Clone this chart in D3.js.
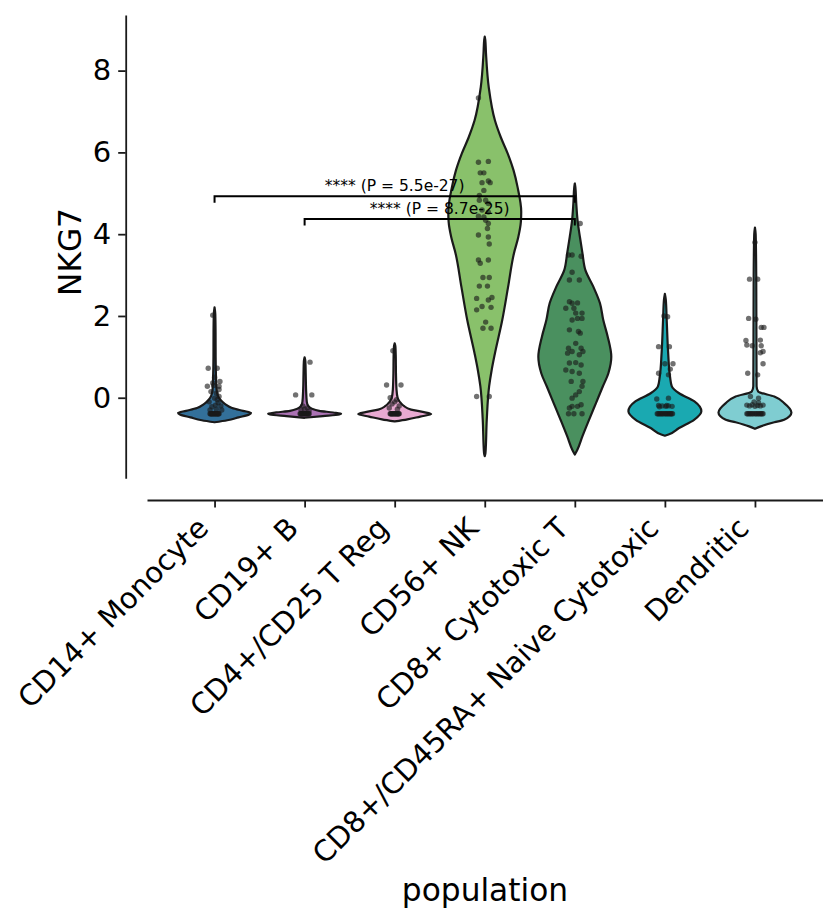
<!DOCTYPE html>
<html>
<head>
<meta charset="utf-8">
<script src="https://cdn.jsdelivr.net/npm/d3@7"></script>
<style>
  body { margin: 0; background: #fff; }
  text { font-family: "DejaVu Sans", sans-serif; fill: #000; }
</style>
</head>
<body>
<script>
var W = 838, H = 924;

// categories and colours
var categories = ["CD14+ Monocyte", "CD19+ B", "CD4+/CD25 T Reg", "CD56+ NK",
                  "CD8+ Cytotoxic T", "CD8+/CD45RA+ Naive Cytotoxic", "Dendritic"];
var palette = ["#33709a", "#ab72b4", "#e8a9d1", "#89c16b", "#4a905f", "#1aa9b1", "#7fcdd1"];
var yTicks = [0, 2, 4, 6, 8];

// violin outlines: [value, relative half width]
var monocyteProfile = [[-0.60,0],[-0.55,0.35],[-0.48,0.66],[-0.41,0.95],[-0.37,1],[-0.32,0.78],[-0.25,0.48],
  [-0.15,0.28],[-0.05,0.16],[0.05,0.09],[0.2,0.055],[0.5,0.04],[1.0,0.03],[1.6,0.028],[2.05,0.02],[2.21,0]];
var bCellProfile = [[-0.49,0],[-0.45,0.5],[-0.41,0.95],[-0.39,1],[-0.36,0.78],[-0.32,0.4],[-0.27,0.2],
  [-0.2,0.1],[-0.1,0.06],[0.2,0.04],[0.6,0.03],[0.9,0.02],[0.99,0]];
var tRegProfile = [[-0.58,0],[-0.53,0.35],[-0.46,0.7],[-0.40,1],[-0.35,0.8],[-0.29,0.45],[-0.2,0.25],
  [-0.1,0.14],[0.0,0.08],[0.2,0.05],[0.6,0.035],[1.0,0.03],[1.25,0.02],[1.33,0]];
var nkProfile = [[-1.43,0],[-1.35,0.02],[-0.54,0.055],[0.28,0.12],[0.68,0.19],[1.09,0.28],[1.9,0.48],
  [2.71,0.64],[3.53,0.8],[3.93,0.92],[4.3,0.99],[4.55,1],[5.15,0.9],[5.56,0.79],[5.97,0.63],
  [6.37,0.44],[6.78,0.28],[7.59,0.11],[8.41,0.035],[8.75,0.015],[8.83,0]];
var cytoTProfile = [[-1.39,0],[-1.27,0.07],[-0.94,0.21],[-0.54,0.39],[-0.13,0.58],[0.28,0.77],[0.6,0.92],
  [1.0,1],[1.5,0.9],[1.9,0.78],[2.31,0.69],[2.71,0.51],[3.12,0.29],[3.53,0.21],[3.93,0.14],
  [4.34,0.075],[4.75,0.04],[5.15,0.015],[5.24,0]];
var naiveProfile = [[-0.93,0],[-0.9,0.1],[-0.74,0.39],[-0.54,0.8],[-0.33,1],[-0.09,0.81],[0.11,0.39],
  [0.28,0.19],[0.52,0.14],[1.09,0.09],[1.9,0.05],[2.4,0.025],[2.54,0]];
var dendriticProfile = [[-0.76,0],[-0.7,0.16],[-0.6,0.53],[-0.54,0.8],[-0.36,1],[-0.13,0.8],[0.03,0.53],
  [0.15,0.09],[0.28,0.045],[1.5,0.04],[3.0,0.035],[4.0,0.02],[4.16,0]];
var profiles = [monocyteProfile, bCellProfile, tRegProfile, nkProfile, cytoTProfile, naiveProfile, dendriticProfile];

// cells: [jitter in category units, NKG7 value]
var monocytePoints = [[-0.02,2.02],[-0.07,0.72],[0.03,0.72],[-0.02,0.36],[0.05,0.28],[-0.04,0.15],[-0.08,0.28],
  [0.02,0.11],[0.05,0.03],[0,-0.01],[-0.06,-0.1],[0.04,-0.12],[0.07,-0.2],[-0.03,-0.22],[0.02,-0.28],
  [0.08,-0.3],[-0.05,-0.3],[0.01,-0.18],[0.05,0.2],[-0.01,0.3],[0.06,0.4],[0.0,0.5],[0.03,-0.05]];
var bCellPoints = [[0.06,0.87],[-0.1,0.07],[0.08,0.07],[-0.02,-0.2],[0.03,-0.25],[0.0,-0.28],[-0.04,-0.3],[0.05,-0.32]];
var tRegPoints = [[-0.02,1.15],[-0.09,0.31],[0.07,0.31],[-0.05,0.0],[0.02,-0.05],[-0.03,-0.15],[0.05,-0.2],
  [-0.06,-0.25],[0.03,-0.28],[0.0,-0.1]];
var nkPoints = [[-0.07,7.33],[-0.07,5.76],[0.04,5.78],[-0.05,5.5],[-0.01,5.5],[-0.03,5.26],[0.04,5.3],[0.06,5.26],
  [-0.01,5.07],[-0.06,4.95],[-0.06,4.83],[0.01,4.83],[0.04,4.75],[-0.03,4.59],[0.04,4.54],[-0.07,4.44],
  [-0.01,4.42],[0.01,4.34],[0.04,4.26],[0.03,4.14],[-0.07,3.98],[0.04,3.93],[0.05,3.76],[-0.07,3.37],
  [-0.05,3.29],[0.04,3.37],[-0.02,2.94],[0.05,2.94],[-0.06,2.73],[0.03,2.73],[-0.09,2.43],[0.08,2.45],
  [0.04,2.39],[0.07,2.21],[-0.09,2.15],[-0.03,2.23],[0.01,1.85],[0.07,1.7],[-0.02,1.7],[-0.09,0.03],[0.05,0.03]];
var cytoTPoints = [[0.06,4.26],[-0.07,3.49],[-0.03,3.49],[0.07,3.46],[-0.03,3.07],[0.05,2.88],[-0.06,2.88],
  [-0.06,2.35],[-0.03,2.31],[0.03,2.32],[-0.1,2.19],[-0.01,2.19],[0.01,2.07],[0.08,2.07],[0.03,1.94],
  [0.08,1.94],[-0.03,1.9],[-0.06,1.66],[0.04,1.62],[0.06,1.58],[-0.07,1.21],[0.01,1.33],[0.07,1.21],
  [-0.03,1.13],[0.09,1.13],[-0.08,1.09],[0.05,1.05],[-0.06,0.85],[0.01,0.86],[0.07,0.8],[-0.1,0.68],
  [-0.03,0.64],[0.05,0.6],[-0.04,0.4],[0.09,0.4],[0.08,0.28],[0.05,0.15],[0.01,0.07],[-0.03,-0.01],
  [0.07,-0.17],[-0.03,-0.21],[-0.06,-0.25],[0.03,-0.21],[-0.07,-0.39],[-0.01,-0.39],[0.08,-0.39]];
var naivePoints = [[-0.01,2.0],[0.03,1.98],[-0.07,1.25],[0.05,1.25],[0.09,0.83],[0,0.83],[-0.07,0.6],[0.04,0.56],
  [0.06,0.7],[-0.09,-0.03],[0.04,-0.01],[-0.07,-0.19],[-0.03,-0.2],[0.01,-0.21],[0.04,-0.2],[0.08,-0.21],
  [-0.06,-0.22],[0.02,-0.19]];
var dendriticPoints = [[0,3.8],[-0.06,2.9],[0.03,2.9],[-0.07,1.94],[0.01,1.92],[0.07,1.72],[0.1,1.72],[-0.1,1.4],
  [-0.09,1.29],[-0.03,1.27],[0.06,1.41],[0.07,1.27],[0.06,1.1],[0.09,1.13],[0.09,0.83],[-0.08,0.6],
  [0.03,0.56],[-0.05,0.03],[0.04,-0.01],[-0.09,-0.18],[-0.06,-0.2],[-0.03,-0.17],[0,-0.21],[0.03,-0.19],
  [0.06,-0.2],[0.09,-0.18],[-0.01,-0.1],[0.04,-0.12]];
var pointSets = [monocytePoints, bCellPoints, tRegPoints, nkPoints, cytoTPoints, naivePoints, dendriticPoints];

// the many non-expressing cells stacked at the floor value
var floorValue = -0.39;
var floorJitter = [-1, -0.75, -0.5, -0.25, 0, 0.25, 0.5, 0.75, 1, -0.9, -0.6, -0.3, 0.1, 0.4, 0.7, 0.9];
var floorSpread = [0.05, 0.05, 0.05, 0, 0, 0.085, 0.09];

// significance brackets: [from, to, height, label]
var comparisons = [[0, 4, 4.93, "**** (P = 5.5e-27)"], [1, 4, 4.37, "**** (P = 8.7e-25)"]];

var svg = d3.select("body").append("svg").attr("width", W).attr("height", H);

var x = d3.scaleLinear().domain([-0.75, 6.75]).range([147, 822.5]);
var y = d3.scaleLinear().domain([-1.97, 9.36]).range([478.3, 15]);
var halfWidth = 0.405;

// violins
var area = d3.area()
  .curve(d3.curveMonotoneY)
  .y(function(d){ return y(d[0]); });

profiles.forEach(function(p, i) {
  area.x0(function(d){ return x(i - d[1] * halfWidth); })
      .x1(function(d){ return x(i + d[1] * halfWidth); });
  svg.append("path")
    .attr("d", area(p))
    .attr("fill", palette[i])
    .attr("stroke", "#1a1a1a")
    .attr("stroke-width", 2.2)
    .attr("stroke-linejoin", "round");
});

// strip points
var dots = svg.append("g").attr("fill", "#1a1a1a").attr("fill-opacity", 0.62);
pointSets.forEach(function(pts, i) {
  var all = pts.slice();
  if (floorSpread[i] > 0) {
    floorJitter.forEach(function(j){ all.push([j * floorSpread[i], floorValue]); });
  }
  dots.selectAll(null).data(all).enter().append("circle")
    .attr("cx", function(d){ return x(i + d[0]); })
    .attr("cy", function(d){ return y(d[1]); })
    .attr("r", 2.7);
});

// axes
var xAxis = d3.axisBottom(x).tickValues(d3.range(categories.length))
  .tickFormat(function(i){ return categories[i]; }).tickSize(7.5).tickSizeOuter(0);
var xAxisGroup = svg.append("g").attr("transform", "translate(0,500)").call(xAxis);
xAxisGroup.select(".domain").attr("stroke", "#1a1a1a").attr("stroke-width", 1.8);
xAxisGroup.selectAll(".tick line").attr("stroke", "#1a1a1a").attr("stroke-width", 1.8);
xAxisGroup.selectAll(".tick text")
  .attr("font-size", 29).attr("font-family", "DejaVu Sans")
  .attr("text-anchor", "end").attr("dy", null)
  .attr("transform", "translate(-5,30) rotate(-45)")
  .attr("y", 0).attr("x", 0);

var yAxis = d3.axisLeft(y).tickValues(yTicks).tickSize(7.5).tickSizeOuter(0).tickPadding(7);
var yAxisGroup = svg.append("g").attr("transform", "translate(125.7,0)").call(yAxis);
yAxisGroup.select(".domain").attr("stroke", "#1a1a1a").attr("stroke-width", 1.8);
yAxisGroup.selectAll(".tick line").attr("stroke", "#1a1a1a").attr("stroke-width", 1.8);
yAxisGroup.selectAll(".tick text").attr("font-size", 29).attr("font-family", "DejaVu Sans");

// titles
svg.append("text").attr("x", 485).attr("y", 901).attr("text-anchor", "middle")
  .attr("font-size", 31.25).text("population");
svg.append("text").attr("transform", "translate(81,252) rotate(-90)").attr("text-anchor", "middle")
  .attr("font-size", 31.25).text("NKG7");

// brackets
var br = svg.append("g");
comparisons.forEach(function(c) {
  var x1 = x(c[0]), x2 = x(c[1]), yy = y(c[2]), drop = y(c[2] - 0.16);
  br.append("path")
    .attr("d", "M" + x1 + "," + drop + "V" + yy + "H" + x2 + "V" + drop)
    .attr("fill", "none").attr("stroke", "#000").attr("stroke-width", 2);
  br.append("text").attr("x", (x1 + x2) / 2).attr("y", yy - 5.5)
    .attr("text-anchor", "middle").attr("font-size", 15.5).text(c[3]);
});
</script>
</body>
</html>
